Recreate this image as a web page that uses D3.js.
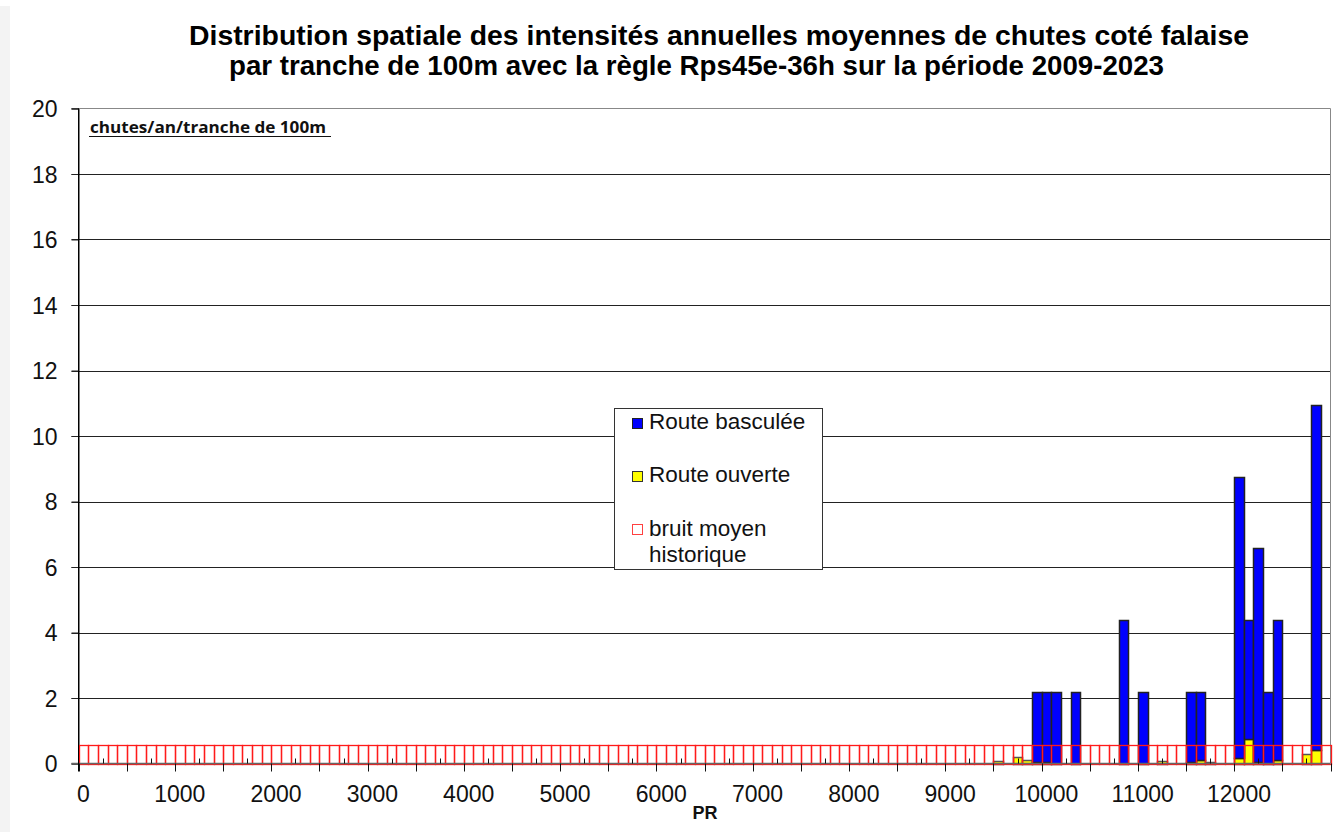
<!DOCTYPE html>
<html>
<head>
<meta charset="utf-8">
<script src="https://cdn.jsdelivr.net/npm/d3@7"></script>
<style>
  html, body { margin: 0; padding: 0; background: #ffffff; }
  svg { display: block; }
</style>
</head>
<body>
<svg id="chart" width="1333" height="832" font-family="Liberation Sans, Arial, sans-serif"></svg>
<script>
// ---- data ----
const titleLines = [
  "Distribution spatiale des intensités annuelles moyennes de chutes coté falaise",
  "par tranche de 100m avec la règle Rps45e-36h sur la période 2009-2023"
];
const unitLabel = "chutes/an/tranche de 100m";
const xAxisTitle = "PR";
const categories = d3.range(0, 13000, 100);           // PR slices of 100 m
const xTickLabels = [0, 1000, 2000, 3000, 4000, 5000, 6000, 7000, 8000, 9000, 10000, 11000, 12000];
const yTicks = [0, 2, 4, 6, 8, 10, 12, 14, 16, 18, 20];
const barPR         = [9500, 9700, 9800, 9900, 10000, 10100, 10300, 10800, 11000, 11200, 11500, 11600, 11700, 12000, 12100, 12200, 12300, 12400, 12700, 12800];
const routeOuverte  = [0.07, 0.20, 0.12, 0.05, 0.05,  0.00,  0.00,  0.00,  0.00,  0.07,  0.05,  0.12,  0.06,  0.18,  0.74,  0.04,  0.00,  0.12,  0.28,  0.41];
const routeBasculee = [0.00, 0.00, 0.00, 2.14, 2.14,  2.19,  2.19,  4.38,  2.19,  0.00,  2.14,  2.07,  0.00,  8.58,  3.64,  6.53,  2.19,  4.26,  0.00, 10.55];
const bruitMoyenHistorique = 0.56; // same level for every 100 m slice
const legendLabels = ["Route basculée", "Route ouverte", "bruit moyen historique"];

// ---- layout ----
const svg = d3.select("#chart");
const W = 1333, H = 832;
const plot = { left: 78.5, right: 1330.5, top: 108.5, bottom: 763.5 };

svg.append("rect").attr("x", 0).attr("y", 6).attr("width", 10).attr("height", H - 6).attr("fill", "#f3f3f3");

const x = d3.scaleBand().domain(categories).range([78.7, 1330.5]).padding(0);
const y = d3.scaleLinear().domain([0, 20]).range([plot.bottom, plot.top]);
const xLin = d3.scaleLinear().domain([0, 13000]).range([78.7, 1330.5]);
const px = v => Math.round(v) + 0.5;                       // pixel-snapped edge
const bx0 = d => px(x(d));
const bw = d => Math.round(x(d) + x.bandwidth()) - Math.round(x(d));
const py = v => Math.round(y(v)) + 0.5;

// Title
const titleX = [189, 229], titleLen = [1060, 935];
svg.append("g").selectAll("text").data(titleLines).join("text")
  .attr("x", (d, i) => titleX[i])
  .attr("y", (d, i) => 45 + i * 30)
  .attr("font-size", 28).attr("font-weight", "bold").attr("fill", "#000")
  .attr("textLength", (d, i) => titleLen[i]).attr("lengthAdjust", "spacingAndGlyphs")
  .text(d => d);

// Gridlines
svg.append("g").selectAll("line").data(yTicks.filter(d => d > 0 && d < 20)).join("line")
  .attr("x1", plot.left - 7).attr("x2", plot.right)
  .attr("y1", d => py(d)).attr("y2", d => py(d))
  .attr("stroke", "#222").attr("stroke-width", 1);

// Plot border (top / right)
svg.append("path")
  .attr("d", `M${plot.left - 7},${plot.top}H${plot.right}V${plot.bottom}`)
  .attr("fill", "none").attr("stroke", "#888").attr("stroke-width", 1);

// Y axis
const yAxis = d3.axisLeft(y).tickValues(yTicks).tickSize(7).tickPadding(14);
const gy = svg.append("g").attr("transform", `translate(${plot.left},0)`).call(yAxis);
gy.select(".domain").attr("stroke", "#000");
gy.selectAll(".tick line").attr("stroke", "#222");
gy.selectAll(".tick text").attr("font-size", 23).attr("fill", "#111")
  .attr("font-family", "Liberation Sans, Arial, sans-serif").attr("dy", "0.36em");

// Bars (stacked: route ouverte at base, route basculée on top)
const barData = barPR.map((pr, i) => ({ pr, o: routeOuverte[i], b: routeBasculee[i] }));
const gb = svg.append("g");
gb.selectAll("rect.o").data(barData.filter(d => d.o > 0)).join("rect")
  .attr("class", "o")
  .attr("x", d => bx0(d.pr)).attr("width", d => bw(d.pr))
  .attr("y", d => py(d.o)).attr("height", d => py(0) - py(d.o))
  .attr("fill", "#ffff00").attr("stroke", "#555").attr("stroke-width", 1.5);
gb.selectAll("rect.b").data(barData.filter(d => d.b > 0)).join("rect")
  .attr("class", "b")
  .attr("x", d => bx0(d.pr)).attr("width", d => bw(d.pr))
  .attr("y", d => py(d.o + d.b)).attr("height", d => py(d.o) - py(d.o + d.b))
  .attr("fill", "#0000ff").attr("stroke", "#222").attr("stroke-width", 1.5);

// Bruit moyen historique (hollow red)
svg.append("g")
  .selectAll("rect").data(categories).join("rect")
  .attr("x", d => bx0(d)).attr("width", d => bw(d))
  .attr("y", py(bruitMoyenHistorique)).attr("height", py(0) - py(bruitMoyenHistorique))
  .attr("fill", "none").attr("stroke", "#ff1a1a").attr("stroke-width", 1.3);

// X axis line + ticks
const gx = svg.append("g");
gx.append("line").attr("x1", plot.left - 7).attr("x2", plot.right)
  .attr("y1", plot.bottom).attr("y2", plot.bottom).attr("stroke", "#666").attr("stroke-width", 1.3);
const majorTicks = d3.range(0, 13001, 500);
gx.selectAll("line.maj").data(majorTicks).join("line").attr("class", "maj")
  .attr("x1", d => px(xLin(d))).attr("x2", d => px(xLin(d)))
  .attr("y1", plot.bottom).attr("y2", plot.bottom + 8).attr("stroke", "#111");
const innerTicks = d3.range(250, 13000, 500);
gx.selectAll("line.min").data(innerTicks).join("line").attr("class", "min")
  .attr("x1", d => px(xLin(d))).attr("x2", d => px(xLin(d)))
  .attr("y1", plot.bottom).attr("y2", plot.bottom - 5).attr("stroke", "#111");
gx.selectAll("text").data(xTickLabels).join("text")
  .attr("x", d => x(d) + x.bandwidth() / 2).attr("y", 802)
  .attr("text-anchor", "middle").attr("font-size", 23).attr("fill", "#111")
  .text(d => d);
svg.append("text").attr("x", 705).attr("y", 819).attr("text-anchor", "middle")
  .attr("font-size", 18).attr("font-weight", "bold").attr("fill", "#111").text(xAxisTitle);

// Left axis line on top
svg.append("line").attr("x1", plot.left).attr("x2", plot.left)
  .attr("y1", plot.top).attr("y2", plot.bottom + 8).attr("stroke", "#000");

// Unit label
svg.append("text").attr("x", 90).attr("y", 133)
  .style("font-family", "'Open Sans', Lato, sans-serif")
  .attr("font-size", 16).attr("font-weight", "bold").attr("fill", "#111")
  .attr("textLength", 236).attr("lengthAdjust", "spacingAndGlyphs")
  .text(unitLabel);
svg.append("line").attr("x1", 89).attr("x2", 331).attr("y1", 136.5).attr("y2", 136.5)
  .attr("stroke", "#111").attr("stroke-width", 1.2);

// Legend
const lg = svg.append("g");
lg.append("rect").attr("x", 614.5).attr("y", 408.5).attr("width", 208).attr("height", 161)
  .attr("fill", "#fff").attr("stroke", "#333");
const sw = [
  { fill: "#0000ff", stroke: "#222", y: 418.5 },
  { fill: "#ffff00", stroke: "#333", y: 471.5 },
  { fill: "none",    stroke: "#ff4040", y: 524.5 }
];
lg.selectAll("rect.sw").data(sw).join("rect").attr("class", "sw")
  .attr("x", 632.5).attr("y", d => d.y).attr("width", 10).attr("height", 10)
  .attr("fill", d => d.fill).attr("stroke", d => d.stroke);
lg.append("text").attr("x", 649).attr("y", 428.5).attr("font-size", 22.5).attr("fill", "#111").text(legendLabels[0]);
lg.append("text").attr("x", 649).attr("y", 482).attr("font-size", 22.5).attr("fill", "#111").text(legendLabels[1]);
lg.append("text").attr("x", 649).attr("y", 536).attr("font-size", 22.5).attr("fill", "#111").text("bruit moyen");
lg.append("text").attr("x", 649).attr("y", 561.5).attr("font-size", 22.5).attr("fill", "#111").text("historique");
</script>
</body>
</html>
